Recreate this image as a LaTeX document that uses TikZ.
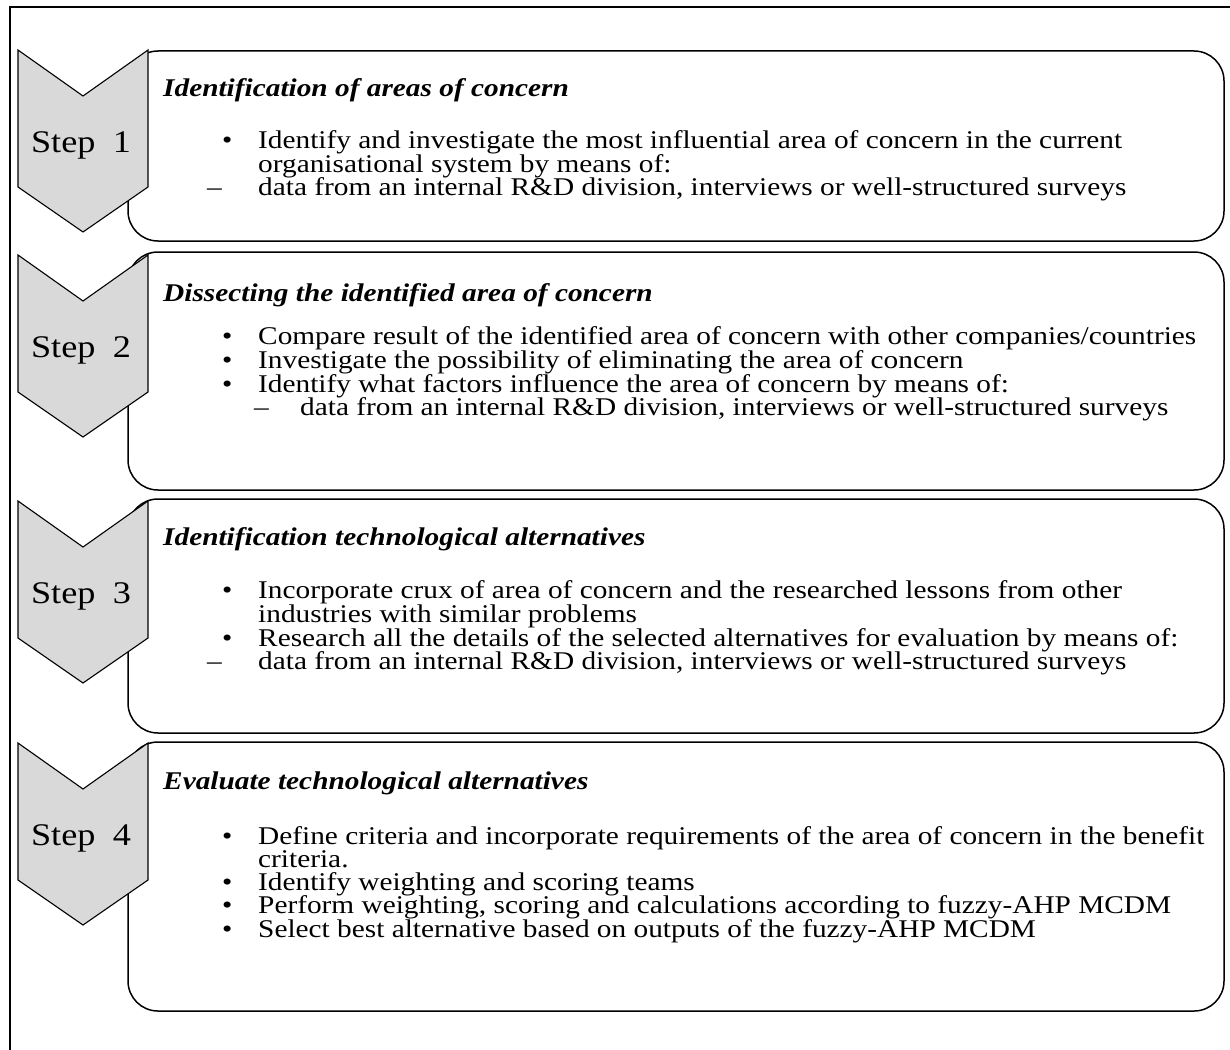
\documentclass[tikz,border=0pt]{standalone}
\usepackage{fontspec}
% Times-metric serif, set slightly wide
\setmainfont[FakeStretch=1.15]{Liberation Serif}
\definecolor{chevgray}{RGB}{217,217,217}
\begin{document}
\begin{tikzpicture}[x=1pt,y=-1pt,
  panel/.style={draw=black, line width=1.5pt, rounded corners=30pt, fill=white},
  chevron/.style={draw=black, line width=1.1pt, fill=chevgray, line join=miter},
  steplabel/.style={inner sep=0pt, font=\fontsize{31.5}{36}\selectfont},
  heading/.style={anchor=base west, inner sep=0pt,
    font=\fontsize{25.5}{23.5}\selectfont\bfseries\itshape},
  item/.style={anchor=base west, inner sep=0pt,
    font=\fontsize{25.5}{23.5}\selectfont},
]
% page area
\clip (0,0) rectangle (1230,1049);
% outer frame (only its top and left sides fall inside the page)
\draw[line width=1.4pt] (10,1070) -- (10,7) -- (1250,7);

% step panels
\draw[panel] (128,51) rectangle (1224,241);
\draw[panel] (128,252) rectangle (1224,490);
\draw[panel] (128,499) rectangle (1224,733);
\draw[panel] (128,742) rectangle (1224,1011);

% chevrons: top y given as argument
\foreach \t/\n in {50/1,255/2,501/3,743/4}{
  \draw[chevron] (18,\t) -- (83,\t+46) -- (148,\t) -- (148,\t+137)
        -- (83,\t+182) -- (18,\t+137) -- cycle;
  \node[steplabel] (step\n) at (81,\t+95) {Step\hspace{0.55em}\n};
}

% Step 1
\node[heading] (h1) at (163,96) {Identification of areas of concern};
\node[item] (b1a) at (222,148) {•};
\node[item] (t1a) at (258,148) {Identify and investigate the most influential area of concern in the current};
\node[item] (t1b) at (258,172) {organisational system by means of:};
\node[item] (d1a) at (207,195) {–};
\node[item] (t1c) at (258,195) {data from an internal R\&D division, interviews or well-structured surveys};

% Step 2
\node[heading] (h2) at (163,301) {Dissecting the identified area of concern};
\node[item] (b2a) at (222,344) {•};
\node[item] (t2a) at (258,344) {Compare result of the identified area of concern with other companies/countries};
\node[item] (b2b) at (222,368) {•};
\node[item] (t2b) at (258,368) {Investigate the possibility of eliminating the area of concern};
\node[item] (b2c) at (222,392) {•};
\node[item] (t2c) at (258,392) {Identify what factors influence the area of concern by means of:};
\node[item] (d2a) at (254,415) {–};
\node[item] (t2d) at (300,415) {data from an internal R\&D division, interviews or well-structured surveys};

% Step 3
\node[heading] (h3) at (163,545) {Identification technological alternatives};
\node[item] (b3a) at (222,598) {•};
\node[item] (t3a) at (258,598) {Incorporate crux of area of concern and the researched lessons from other};
\node[item] (t3b) at (258,622) {industries with similar problems};
\node[item] (b3b) at (222,646) {•};
\node[item] (t3c) at (258,646) {Research all the details of the selected alternatives for evaluation by means of:};
\node[item] (d3a) at (207,669) {–};
\node[item] (t3d) at (258,669) {data from an internal R\&D division, interviews or well-structured surveys};

% Step 4
\node[heading] (h4) at (163,789) {Evaluate technological alternatives};
\node[item] (b4a) at (222,844) {•};
\node[item] (t4a) at (258,844) {Define criteria and incorporate requirements of the area of concern in the benefit};
\node[item] (t4b) at (258,867) {criteria.};
\node[item] (b4b) at (222,890) {•};
\node[item] (t4c) at (258,890) {Identify weighting and scoring teams};
\node[item] (b4c) at (222,913) {•};
\node[item] (t4d) at (258,913) {Perform weighting, scoring and calculations according to fuzzy-AHP MCDM};
\node[item] (b4d) at (222,937) {•};
\node[item] (t4e) at (258,937) {Select best alternative based on outputs of the fuzzy-AHP MCDM};
\end{tikzpicture}
\end{document}
